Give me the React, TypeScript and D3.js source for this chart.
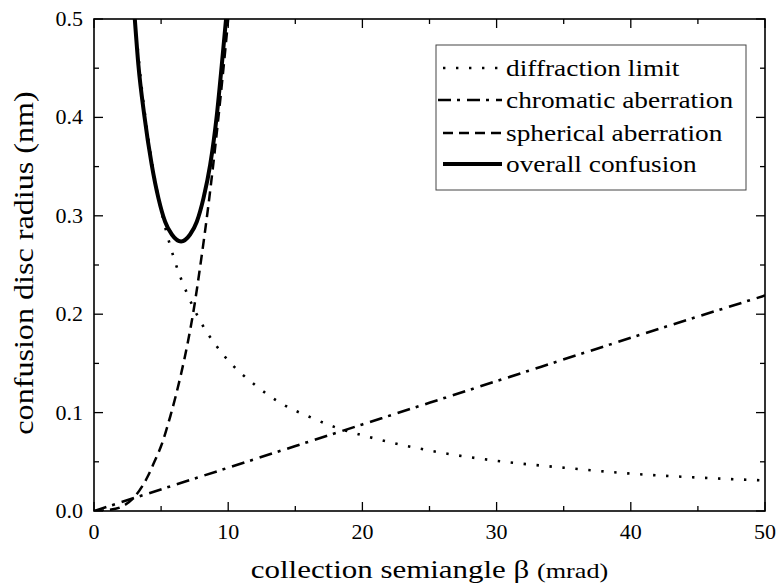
import React from 'react'
import * as d3 from 'd3'

// values (beta in mrad, radius in nm)
const diffBeta = [3, 3.5, 4, 4.5, 5, 6, 7, 8, 9, 10, 12, 14, 16, 18, 20, 23, 26, 30, 35, 40, 45, 50]
const diffVal = [0.51, 0.437, 0.383, 0.34, 0.306, 0.255, 0.219, 0.191, 0.17, 0.153, 0.128, 0.109, 0.096, 0.085, 0.077, 0.067, 0.059, 0.051, 0.044, 0.038, 0.034, 0.031]

const chromBeta = [0, 10, 20, 30, 40, 50]
const chromVal = [0, 0.044, 0.088, 0.132, 0.176, 0.219]

const spherBeta = [0, 1, 2, 3, 4, 4.5, 5, 5.7, 6.5, 7, 7.4, 8, 8.5, 9, 9.5, 10, 10.2]
const spherVal = [0, 0.001, 0.004, 0.014, 0.035, 0.05, 0.066, 0.097, 0.14, 0.172, 0.202, 0.257, 0.308, 0.366, 0.43, 0.5, 0.53]

const totalBeta = [3.04, 3.31, 3.75, 4.3, 4.8, 5.3, 5.8, 6.49, 7.16, 7.66, 8.16, 8.66, 9.15, 9.52, 9.84]
const totalVal = [0.5, 0.453, 0.402, 0.352, 0.318, 0.294, 0.281, 0.274, 0.281, 0.294, 0.318, 0.352, 0.402, 0.453, 0.5]

const xMajor = [0, 10, 20, 30, 40, 50]
const xMinor = [5, 15, 25, 35, 45]
const yMajor = [0, 0.1, 0.2, 0.3, 0.4, 0.5]
const yMinor = [0.05, 0.15, 0.25, 0.35, 0.45]

const legendLabels = ['diffraction limit', 'chromatic aberration', 'spherical aberration', 'overall confusion']

const W = 779
const H = 584
const FONT = 'Times New Roman, Times, Liberation Serif, Tinos, DejaVu Serif, serif'
// the original's lettering is wider than plain Times
const STRETCH = 1.19

const styles = [
  { dash: '2.4 10.6', width: 2.6, cap: 'butt' },
  { dash: '13 6 3 7', width: 2.6, cap: 'butt' },
  { dash: '10 6', width: 2.5, cap: 'butt' },
  { dash: null, width: 4, cap: 'round' },
]

export default function App() {
  const x = d3.scaleLinear().domain([0, 50]).range([94, 765])
  const y = d3.scaleLinear().domain([0, 0.5]).range([511, 19])
  const [x0, x1] = x.range()
  const [y0, y1] = y.range()

  const line = d3.line<[number, number]>()
    .x(d => x(d[0]))
    .y(d => y(d[1]))
    .curve(d3.curveMonotoneX)

  const series = [
    d3.zip(diffBeta, diffVal),
    d3.zip(chromBeta, chromVal),
    d3.zip(spherBeta, spherVal),
    d3.zip(totalBeta, totalVal),
  ] as [number, number][][]

  const majorLen = 9
  const minorLen = 5

  // legend
  const lx = 436, ly = 45, lw = 310, lh = 145
  const rowY = [68, 100, 133, 164]

  return (
    <svg width={W} height={H} style={{ position: 'absolute', left: 0, top: 0, background: '#fff' }}>
      <defs>
        <clipPath id="plot">
          <rect x={x0} y={y1} width={x1 - x0} height={y0 - y1} />
        </clipPath>
      </defs>

      <g clipPath="url(#plot)">
        {series.map((s, i) => (
          <path key={i} d={line(s) || ''} fill="none" stroke="#000"
            strokeWidth={styles[i].width}
            strokeDasharray={styles[i].dash || undefined}
            strokeLinecap={styles[i].cap as any}
            strokeLinejoin="round" />
        ))}
      </g>

      {/* ticks, all four sides, inward */}
      <g stroke="#000" strokeWidth={1.3}>
        {xMajor.map(t => (
          <g key={'xM' + t}>
            <line x1={x(t)} x2={x(t)} y1={y0} y2={y0 - majorLen} />
            <line x1={x(t)} x2={x(t)} y1={y1} y2={y1 + majorLen} />
          </g>
        ))}
        {xMinor.map(t => (
          <g key={'xm' + t}>
            <line x1={x(t)} x2={x(t)} y1={y0} y2={y0 - minorLen} />
            <line x1={x(t)} x2={x(t)} y1={y1} y2={y1 + minorLen} />
          </g>
        ))}
        {yMajor.map(t => (
          <g key={'yM' + t}>
            <line x1={x0} x2={x0 + majorLen} y1={y(t)} y2={y(t)} />
            <line x1={x1} x2={x1 - majorLen} y1={y(t)} y2={y(t)} />
          </g>
        ))}
        {yMinor.map(t => (
          <g key={'ym' + t}>
            <line x1={x0} x2={x0 + minorLen} y1={y(t)} y2={y(t)} />
            <line x1={x1} x2={x1 - minorLen} y1={y(t)} y2={y(t)} />
          </g>
        ))}
      </g>

      <rect x={x0} y={y1} width={x1 - x0} height={y0 - y1} fill="none" stroke="#000" strokeWidth={1.6} />

      <g fontFamily={FONT} fill="#000">
        {/* tick labels */}
        {xMajor.map(t => (
          <text key={'xl' + t} x={x(t)} y={539} textAnchor="middle" fontSize={22}>{t}</text>
        ))}
        {yMajor.map(t => (
          <text key={'yl' + t} x={83} y={y(t) + 7} textAnchor="end" fontSize={22}>{t.toFixed(1)}</text>
        ))}

        {/* axis titles */}
        <text transform={`translate(${(x0 + x1) / 2},578) scale(${STRETCH},1)`} textAnchor="middle" fontSize={26}>
          collection semiangle β <tspan fontSize={22}>(mrad)</tspan>
        </text>
        <text transform={`translate(33,${(y0 + y1) / 2 - 2}) rotate(-90) scale(${STRETCH},1)`} textAnchor="middle" fontSize={27}>
          confusion disc radius (nm)
        </text>

        {/* legend */}
        <rect x={lx} y={ly} width={lw} height={lh} fill="#fff" stroke="#444" strokeWidth={1} />
        {legendLabels.map((lab, i) => (
          <g key={lab}>
            <line x1={i === 1 ? 438 : 443} x2={502} y1={rowY[i]} y2={rowY[i]} stroke="#000"
              strokeWidth={styles[i].width}
              strokeDasharray={styles[i].dash || undefined} />
            <text transform={`translate(506,${rowY[i] + 8}) scale(${STRETCH},1)`} fontSize={23}>{lab}</text>
          </g>
        ))}
      </g>
    </svg>
  )
}
